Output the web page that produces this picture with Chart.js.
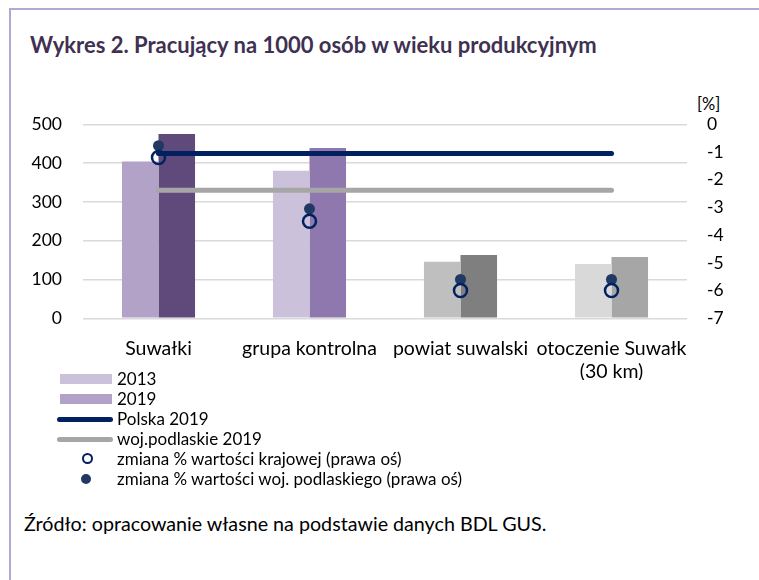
<!DOCTYPE html>
<html>
<head>
<meta charset="utf-8">
<script src="https://cdn.jsdelivr.net/npm/chart.js@4.4.1/dist/chart.umd.min.js"></script>
<style>
  html,body{margin:0;padding:0;background:#fff;}
  #page{position:relative;width:759px;height:580px;overflow:hidden;font-family:Lato,"Open Sans",sans-serif;color:#000;}
  #frame{position:absolute;left:9px;top:8px;right:-10px;bottom:-10px;border-left:2px solid #b4a7d6;border-top:2px solid #b4a7d6;}
  #title{position:absolute;left:30px;top:31px;font-weight:bold;font-size:22px;color:#3f3151;white-space:nowrap;line-height:28px;}
  #pct{position:absolute;left:697px;top:93px;font-size:16.5px;line-height:22px;}
  #chartBox{position:absolute;left:0;top:90px;width:759px;height:290px;}
  #legend{position:absolute;left:0;top:369px;width:600px;}
  .row{position:relative;height:20px;}
  .row span.t{position:absolute;left:117px;top:0;font-size:17px;line-height:20px;white-space:nowrap;}
  .sw{position:absolute;}
  #source{position:absolute;left:24px;top:511px;font-size:19.7px;line-height:26px;white-space:nowrap;}
</style>
</head>
<body>
<div id="page">
  <div id="frame"></div>
  <div id="title">Wykres 2. Pracujący na 1000 osób w wieku produkcyjnym</div>
  <div id="pct">[%]</div>
  <div id="chartBox"><canvas id="c" width="759" height="290"></canvas></div>
  <div id="legend"></div>
  <div id="source">Źródło: opracowanie własne na podstawie danych BDL GUS.</div>
</div>
<script>
// ---- data ----
const categories = ['Suwałki', 'grupa kontrolna', 'powiat suwalski', ['otoczenie Suwałk', '(30 km)']];
const values2013 = [404, 380, 146, 140];
const values2019 = [475, 439, 163, 158];
const polska2019 = 425;
const podlaskie2019 = 330;
const zmianaKrajowej = [-1.2, -3.5, -6.0, -6.0];
const zmianaWojewodztwa = [-0.77, -3.05, -5.6, -5.6];
const leftTicks = [0, 100, 200, 300, 400, 500];
const rightTicks = [0, -1, -2, -3, -4, -5, -6, -7];

// ---- styles ----
const colors2013 = ['#b3a2c7', '#ccc1da', '#bfbfbf', '#d9d9d9'];
const colors2019 = ['#604a7b', '#8f78ad', '#7f7f7f', '#a6a6a6'];
const navy = '#002060';
const dotBlue = '#1f3864';
const grey = '#a6a6a6';
const FONT = 'Lato';

const flat = v => categories.map(() => v);

const data = {
  labels: categories,
  datasets: [
    { type: 'line', label: 'zmiana % wartości krajowej (prawa oś)', data: zmianaKrajowej, yAxisID: 'y1',
      showLine: false, pointStyle: 'circle', pointRadius: 6.5, pointBorderWidth: 2.5,
      pointBorderColor: navy, pointBackgroundColor: 'rgba(0,0,0,0)', borderColor: navy, backgroundColor: 'rgba(0,0,0,0)' },
    { type: 'line', label: 'zmiana % wartości woj. podlaskiego (prawa oś)', data: zmianaWojewodztwa, yAxisID: 'y1',
      showLine: false, pointStyle: 'circle', pointRadius: 5.5, pointBorderWidth: 0,
      pointBackgroundColor: dotBlue, borderColor: dotBlue, backgroundColor: dotBlue },
    { type: 'line', label: 'Polska 2019', data: flat(polska2019), yAxisID: 'y',
      borderColor: navy, borderWidth: 5, borderCapStyle: 'round', pointRadius: 0, fill: false },
    { type: 'line', label: 'woj.podlaskie 2019', data: flat(podlaskie2019), yAxisID: 'y',
      borderColor: grey, borderWidth: 5, borderCapStyle: 'round', pointRadius: 0, fill: false },
    { type: 'bar', label: '2013', data: values2013, yAxisID: 'y', backgroundColor: colors2013,
      categoryPercentage: 0.484, barPercentage: 1.0 },
    { type: 'bar', label: '2019', data: values2019, yAxisID: 'y', backgroundColor: colors2019,
      categoryPercentage: 0.484, barPercentage: 1.0 }
  ]
};

const fixW = w => function(s){ s.width = w; };
const fixH = h => function(s){ s.height = h; };

const chart = new Chart(document.getElementById('c'), {
  data,
  options: {
    responsive: false,
    animation: false,
    devicePixelRatio: 1,
    layout: { padding: { top: 34.3, left: 0, right: 0, bottom: 0 } },
    plugins: { legend: { display: false }, tooltip: { enabled: false } },
    scales: {
      x: {
        type: 'category',
        offset: true,
        grid: { display: false },
        border: { display: false },
        ticks: { color: '#000', font: { family: FONT, size: 19.5, lineHeight: 1.18 }, padding: 11, maxRotation: 0, autoSkip: false },
        afterFit: fixH(61.7)
      },
      y: {
        position: 'left',
        min: 0, max: 500,
        afterBuildTicks: s => { s.ticks = leftTicks.map(v => ({ value: v })); },
        grid: { color: '#d9d9d9', lineWidth: 1.6, drawTicks: false },
        border: { display: false },
        ticks: { color: '#000', font: { family: FONT, size: 17.5 }, padding: 21 },
        afterFit: fixW(83)
      },
      y1: {
        position: 'right',
        min: -7, max: 0,
        afterBuildTicks: s => { s.ticks = rightTicks.map(v => ({ value: v })); },
        grid: { display: false, drawTicks: false },
        border: { display: false },
        ticks: { color: '#000', font: { family: FONT, size: 17.5 }, padding: 20 },
        afterFit: fixW(72)
      }
    }
  }
});

// ---- HTML legend built from the datasets ----
const legendItems = [
  { label: data.datasets[4].label, kind: 'rect', color: '#ccc1da' },
  { label: data.datasets[5].label, kind: 'rect', color: '#b3a2c7' },
  { label: data.datasets[2].label, kind: 'line', color: navy },
  { label: data.datasets[3].label, kind: 'line', color: grey },
  { label: data.datasets[0].label, kind: 'ring', color: navy },
  { label: data.datasets[1].label, kind: 'dot', color: dotBlue }
];
const leg = document.getElementById('legend');
legendItems.forEach(it => {
  const row = document.createElement('div');
  row.className = 'row';
  const sw = document.createElement('div');
  sw.className = 'sw';
  if (it.kind === 'rect') {
    Object.assign(sw.style, { left: '60px', top: '5px', width: '52px', height: '10px', background: it.color });
  } else if (it.kind === 'line') {
    Object.assign(sw.style, { left: '57px', top: '7.5px', width: '56px', height: '5px', background: it.color, borderRadius: '3px' });
  } else if (it.kind === 'ring') {
    Object.assign(sw.style, { left: '82px', top: '4px', width: '7px', height: '7px', border: '2.5px solid ' + it.color, borderRadius: '50%' });
  } else {
    Object.assign(sw.style, { left: '81px', top: '5px', width: '10px', height: '10px', background: it.color, borderRadius: '50%' });
  }
  const t = document.createElement('span');
  t.className = 't';
  t.textContent = it.label;
  row.appendChild(sw);
  row.appendChild(t);
  leg.appendChild(row);
});
</script>
</body>
</html>
